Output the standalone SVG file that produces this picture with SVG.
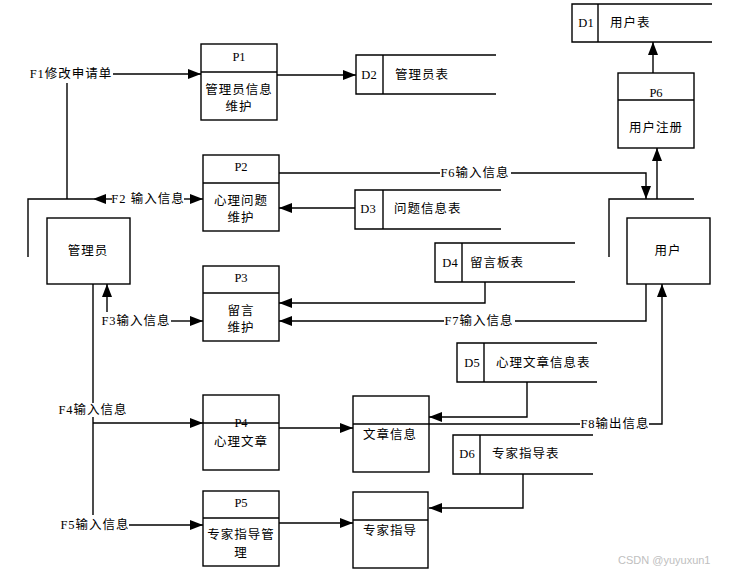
<svg xmlns="http://www.w3.org/2000/svg" width="731" height="572" viewBox="0 0 731 572">
<defs>
<marker id="ah" markerUnits="userSpaceOnUse" markerWidth="13" markerHeight="10" refX="13" refY="5" orient="auto">
<path d="M0,0 L13,5 L0,10 z" fill="#000"/>
</marker>
<style>
rect{fill:#fff;stroke:#000;stroke-width:1.4}
line,polyline,path.c{fill:none;stroke:#000;stroke-width:1.4}
text{font-family:"Liberation Serif","Noto Sans CJK SC",serif;font-size:12.5px;fill:#000;dominant-baseline:central}
.m{text-anchor:middle}
.cn{letter-spacing:1px}
</style>
</defs>
<rect x="0" y="0" width="731" height="572" style="stroke:none;fill:#fff"/>
<g id="connectors">
<path class="c" d="M67,199 V83"/>
<path class="c" d="M113,74 H201" marker-end="url(#ah)"/>
<path class="c" d="M277,75 H356" marker-end="url(#ah)"/>
<path class="c" d="M112,199 H93" marker-end="url(#ah)"/>
<path class="c" d="M184,199 H203" marker-end="url(#ah)"/>
<path class="c" d="M279,173 H440 M511,173 H646 V199" marker-end="url(#ah)"/>
<path class="c" d="M355,208 H279" marker-end="url(#ah)"/>
<path class="c" d="M657,199 V148" marker-end="url(#ah)"/>
<path class="c" d="M653,73 V42" marker-end="url(#ah)"/>
<path class="c" d="M485,282 V303 H279" marker-end="url(#ah)"/>
<path class="c" d="M646,284 V321 H515 M444,321 H279" marker-end="url(#ah)"/>
<path class="c" d="M171,321 H203" marker-end="url(#ah)"/>
<path class="c" d="M107,312 V284" marker-end="url(#ah)"/>
<path class="c" d="M93,284 V403 M93,417 V515"/>
<path class="c" d="M93,423 H203" marker-end="url(#ah)"/>
<path class="c" d="M129,525 H203" marker-end="url(#ah)"/>
<path class="c" d="M279,428 H353" marker-end="url(#ah)"/>
<path class="c" d="M527,382 V417 H429" marker-end="url(#ah)"/>
<path class="c" d="M429,424 H580 M649,424 H662 V284" marker-end="url(#ah)"/>
<path class="c" d="M523,474 V508 H429" marker-end="url(#ah)"/>
<path class="c" d="M279,523 H353" marker-end="url(#ah)"/>
<text x="71" y="74" class="m cn">F1修改申请单</text>
<text x="148" y="199" class="m cn">F2 输入信息</text>
<text x="475" y="173" class="m cn">F6输入信息</text>
<text x="479" y="321" class="m cn">F7输入信息</text>
<text x="136" y="321" class="m cn">F3输入信息</text>
<text x="93" y="410" class="m cn">F4输入信息</text>
<text x="95" y="525" class="m cn">F5输入信息</text>
<text x="615" y="424" class="m cn">F8输出信息</text>
</g>
<g id="admin">
<polyline points="28,257 28,199 93,199"/>
<rect x="47" y="218" width="83" height="66"/>
<text x="88" y="251" class="m cn">管理员</text>
</g>
<g id="user">
<polyline points="609,257 609,199 694,199"/>
<rect x="627" y="218" width="83" height="66"/>
<text x="668" y="251" class="m cn">用户</text>
</g>
<g id="P1">
<rect x="201" y="44" width="76" height="76"/>
<line x1="201" y1="72" x2="277" y2="72"/>
<text x="239" y="57" class="m">P1</text>
<text x="239" y="90" class="m cn">管理员信息</text>
<text x="239" y="107" class="m cn">维护</text>
</g>
<g id="P2">
<rect x="203" y="155" width="76" height="76"/>
<line x1="203" y1="183" x2="279" y2="183"/>
<text x="241" y="167" class="m">P2</text>
<text x="241" y="201" class="m cn">心理问题</text>
<text x="241" y="218" class="m cn">维护</text>
</g>
<g id="P3">
<rect x="203" y="266" width="76" height="75"/>
<line x1="203" y1="293" x2="279" y2="293"/>
<text x="241" y="278" class="m">P3</text>
<text x="241" y="311" class="m cn">留言</text>
<text x="241" y="328" class="m cn">维护</text>
</g>
<g id="P4">
<rect x="203" y="395" width="76" height="75"/>
<line x1="203" y1="423" x2="279" y2="423"/>
<text x="241" y="423" class="m">P4</text>
<text x="241" y="442" class="m cn">心理文章</text>
</g>
<g id="P5">
<rect x="203" y="491" width="76" height="75"/>
<line x1="203" y1="518" x2="279" y2="518"/>
<text x="241" y="503" class="m">P5</text>
<text x="241" y="535" class="m cn">专家指导管</text>
<text x="241" y="553" class="m cn">理</text>
</g>
<g id="P6">
<rect x="618" y="73" width="76" height="75"/>
<line x1="618" y1="100" x2="694" y2="100"/>
<text x="656" y="93" class="m">P6</text>
<text x="656" y="128" class="m cn">用户注册</text>
</g>
<g id="article">
<rect x="353" y="396" width="76" height="76"/>
<line x1="353" y1="424" x2="429" y2="424"/>
<text x="390" y="435" class="m cn">文章信息</text>
</g>
<g id="expert">
<rect x="353" y="492" width="75" height="76"/>
<line x1="353" y1="520" x2="428" y2="520"/>
<text x="390" y="531" class="m cn">专家指导</text>
</g>
<g id="D1">
<polyline points="712,4 572,4 572,42 712,42"/>
<line x1="598" y1="4" x2="598" y2="42"/>
<text x="586" y="23" class="m">D1</text>
<text x="610" y="23" class="cn">用户表</text>
</g>
<g id="D2">
<polyline points="496,55 356,55 356,94 496,94"/>
<line x1="383" y1="55" x2="383" y2="94"/>
<text x="369" y="75" class="m">D2</text>
<text x="395" y="75" class="cn">管理员表</text>
</g>
<g id="D3">
<polyline points="501,190 355,190 355,229 501,229"/>
<line x1="383" y1="190" x2="383" y2="229"/>
<text x="368" y="209" class="m">D3</text>
<text x="394" y="209" class="cn">问题信息表</text>
</g>
<g id="D4">
<polyline points="575,243 435,243 435,282 575,282"/>
<line x1="462" y1="243" x2="462" y2="282"/>
<text x="450" y="263" class="m">D4</text>
<text x="470" y="263" class="cn">留言板表</text>
</g>
<g id="D5">
<polyline points="597,343 457,343 457,382 597,382"/>
<line x1="484" y1="343" x2="484" y2="382"/>
<text x="472" y="363" class="m">D5</text>
<text x="496" y="363" class="cn">心理文章信息表</text>
</g>
<g id="D6">
<polyline points="593,435 453,435 453,474 593,474"/>
<line x1="480" y1="435" x2="480" y2="474"/>
<text x="467" y="454" class="m">D6</text>
<text x="492" y="454" class="cn">专家指导表</text>
</g>
<text x="618" y="560" style="font-family:'Liberation Sans',sans-serif;font-size:11px;fill:#c0c0c0">CSDN @yuyuxun1</text>
</svg>
